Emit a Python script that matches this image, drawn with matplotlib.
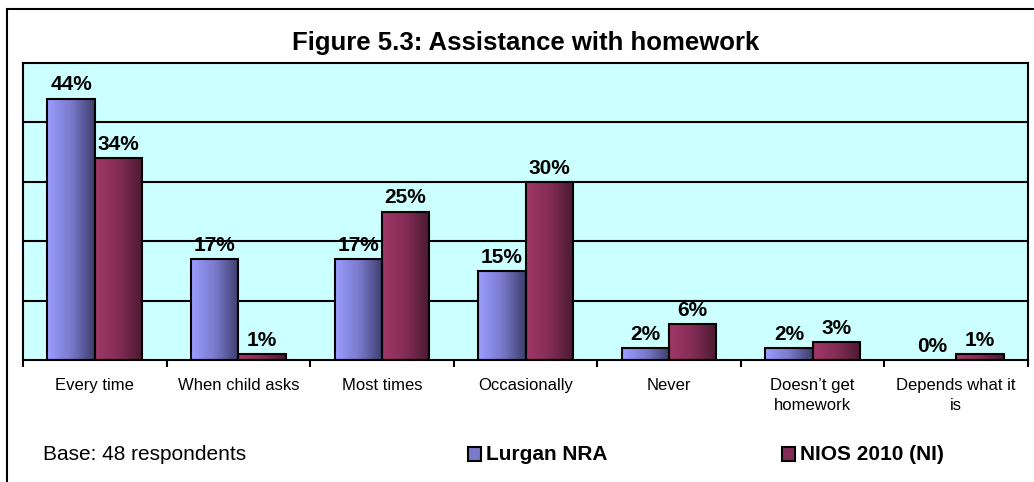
import matplotlib.pyplot as plt
import numpy as np
from matplotlib.colors import LinearSegmentedColormap
from matplotlib.patches import Rectangle

plt.rcParams['font.family'] = ['Liberation Sans', 'DejaVu Sans']

categories = ["Every time", "When child asks", "Most times", "Occasionally",
              "Never", "Doesn\u2019t get\nhomework", "Depends what it\nis"]
lurgan = [44, 17, 17, 15, 2, 2, 0]
nios = [34, 1, 25, 30, 6, 3, 1]
series_names = ["Lurgan NRA", "NIOS 2010 (NI)"]

blue_cmap = LinearSegmentedColormap.from_list("b", ["#9c9cff", "#7a7acc", "#3e3e6e"])
red_cmap = LinearSegmentedColormap.from_list("r", ["#a03868", "#832c55", "#4a1a30"])

fig = plt.figure(figsize=(10.34, 4.82), dpi=100)
ax = fig.add_axes([23 / 1034, 1 - 360 / 482, 1005 / 1034, 297 / 482])
ax.set_facecolor("#ccffff")

# outer frame (right/bottom run off the image)
fig.patches.append(Rectangle((7 / 1034, -0.05), 1.1, 1 - 9 / 482 + 0.05,
                             transform=fig.transFigure, fill=False,
                             edgecolor="black", linewidth=1.5, zorder=0))

x = np.arange(len(categories))
w = 0.33
grad = np.linspace(0, 1, 64).reshape(1, -1)


def gradient_bars(xpos, vals, cmap):
    bars = ax.bar(xpos, vals, w, facecolor="none", edgecolor="black",
                  linewidth=1.5, zorder=3)
    for b in bars:
        if b.get_height() <= 0:
            b.set_visible(False)
            continue
        x0, y0 = b.get_x(), b.get_y()
        im = ax.imshow(grad, cmap=cmap, aspect="auto", zorder=2,
                       extent=[x0, x0 + b.get_width(), y0, y0 + b.get_height()])
        im.set_clip_path(b)
    return bars


b1 = gradient_bars(x - w / 2, lurgan, blue_cmap)
b2 = gradient_bars(x + w / 2, nios, red_cmap)

for xpos, vals in [(x - w / 2, lurgan), (x + w / 2, nios)]:
    for xi, v in zip(xpos, vals):
        ax.annotate(f"{v}%", (xi, v), xytext=(0, 3), textcoords="offset points",
                    ha="center", va="bottom", fontsize=15, fontweight="bold")

ax.set_xlim(-0.5, len(categories) - 0.5)
ax.set_ylim(0, 50)
ax.set_yticks([10, 20, 30, 40])
ax.yaxis.grid(True, color="black", linewidth=1.5)
ax.set_axisbelow(True)
ax.tick_params(axis="y", left=False, labelleft=False)

ax.set_xticks(np.arange(len(categories) + 1) - 0.5)
ax.set_xticklabels([])
ax.tick_params(axis="x", direction="out", length=5, width=1.5, color="black")
ax.set_xticks(x, minor=True)
ax.set_xticklabels(categories, minor=True, fontsize=12, linespacing=1.4)
ax.tick_params(axis="x", which="minor", length=0, pad=13)

for s in ax.spines.values():
    s.set_linewidth(1.5)
    s.set_color("black")

fig.text(526 / 1034, 1 - 43 / 482, "Figure 5.3: Assistance with homework",
         ha="center", va="center", fontsize=18.5, fontweight="bold")
fig.text(43 / 1034, 1 - 455 / 482, "Base: 48 respondents", ha="left",
         va="center", fontsize=15)

for (lx, col, name) in [(468, "#7a7acc", series_names[0]), (782, "#832c55", series_names[1])]:
    fig.patches.append(Rectangle((lx / 1034, 1 - 461 / 482), 13 / 1034, 14 / 482,
                                 transform=fig.transFigure, facecolor=col,
                                 edgecolor="black", linewidth=1.5))
    fig.text((lx + 18) / 1034, 1 - 455 / 482, name, ha="left", va="center",
             fontsize=15, fontweight="bold")

fig.savefig("out.png", dpi=100)
